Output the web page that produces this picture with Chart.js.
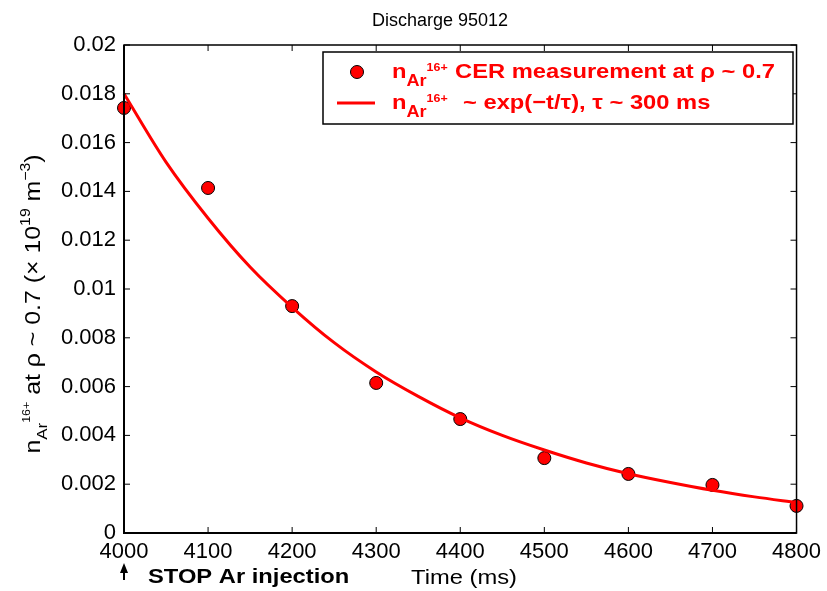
<!DOCTYPE html>
<html>
<head>
<meta charset="utf-8">
<script src="https://cdn.jsdelivr.net/npm/chart.js@4"></script>
<style>
  body { margin: 0; background: #fff; }
  #wrap { width: 827px; height: 591px; }
</style>
</head>
<body>
<div id="wrap"><canvas id="decay"></canvas></div>
<script>
// measured CER points
const timesMs = [4000, 4100, 4200, 4300, 4400, 4500, 4600, 4700, 4800];
const density = [0.01742, 0.01414, 0.0093, 0.00615, 0.00467, 0.00307, 0.00242, 0.00197, 0.00111];

// fit curve
const fitTimes = [4000, 4050, 4100, 4150, 4200, 4250, 4300, 4350, 4400, 4450, 4500, 4550, 4600, 4650, 4700, 4750, 4800];
const fitDensity = [0.0180, 0.0152, 0.0129, 0.0109, 0.00925, 0.0078, 0.0066, 0.0056, 0.00472, 0.00400, 0.00340, 0.00287, 0.00243, 0.00207, 0.00175, 0.00148, 0.00125];

const xTicks = [4000, 4100, 4200, 4300, 4400, 4500, 4600, 4700, 4800];
const yTicks = [0, 0.002, 0.004, 0.006, 0.008, 0.01, 0.012, 0.014, 0.016, 0.018, 0.02];

const FONT = '"Liberation Sans", Arial, Helvetica, sans-serif';
const SX = 1.13; // the picture's text is a bit wide

// text runs with sub/superscripts
function richWidth(ctx, parts) {
  let w = 0;
  parts.forEach(p => {
    ctx.font = (p.bold ? 'bold ' : '') + p.size + 'px ' + FONT;
    w += ctx.measureText(p.t).width * SX;
  });
  return w;
}
function drawRich(ctx, parts, x, y, color) {
  ctx.fillStyle = color;
  ctx.textBaseline = 'alphabetic';
  ctx.textAlign = 'left';
  parts.forEach(p => {
    if (p.at !== undefined) x = p.at;
    ctx.font = (p.bold ? 'bold ' : '') + p.size + 'px ' + FONT;
    ctx.save();
    ctx.translate(x, y + (p.dy || 0));
    ctx.scale(SX, 1);
    ctx.fillText(p.t, 0, 0);
    ctx.restore();
    x += ctx.measureText(p.t).width * SX;
  });
}

const decorPlugin = {
  id: 'decor',
  afterDraw(chart) {
    const ctx = chart.ctx;
    const a = chart.chartArea;
    const xs = chart.scales.x, ys = chart.scales.y;
    ctx.save();

    // frame
    ctx.strokeStyle = '#000';
    ctx.lineWidth = 1.5;
    ctx.strokeRect(a.left, a.top, a.right - a.left, a.bottom - a.top);
    ctx.lineWidth = 2;
    ctx.beginPath();
    ctx.moveTo(a.left, a.top); ctx.lineTo(a.left, a.bottom); ctx.lineTo(a.right, a.bottom);
    ctx.stroke();

    // inward ticks on all sides
    ctx.lineWidth = 1;
    ctx.beginPath();
    xTicks.forEach(v => {
      const px = xs.getPixelForValue(v);
      ctx.moveTo(px, a.bottom); ctx.lineTo(px, a.bottom - 6);
      ctx.moveTo(px, a.top); ctx.lineTo(px, a.top + 6);
    });
    yTicks.forEach(v => {
      const py = ys.getPixelForValue(v);
      ctx.moveTo(a.left, py); ctx.lineTo(a.left + 6, py);
      ctx.moveTo(a.right, py); ctx.lineTo(a.right - 6, py);
    });
    ctx.stroke();

    // title
    ctx.font = '18px ' + FONT;
    ctx.fillStyle = '#000';
    ctx.textAlign = 'center';
    ctx.fillText('Discharge 95012', 440, 26);

    // x label
    ctx.font = '21px ' + FONT;
    ctx.save();
    ctx.translate(464, 584);
    ctx.scale(SX, 1);
    ctx.fillText('Time (ms)', 0, 0);
    ctx.restore();

    // STOP note + arrow
    drawRich(ctx, [{ t: 'STOP Ar injection', size: 21, bold: true }], 148, 583, '#000');
    const ax = xs.getPixelForValue(4000);
    ctx.fillStyle = '#000';
    ctx.beginPath();
    ctx.moveTo(ax, 563); ctx.lineTo(ax - 4, 573); ctx.lineTo(ax + 4, 573); ctx.closePath();
    ctx.fill();
    ctx.fillRect(ax - 1, 570, 2, 10);

    // y label, rotated
    const yParts = [
      { t: 'n', size: 22 },
      { t: 'Ar', size: 15, dy: 7 },
      { t: '16+', size: 11, dy: -10 },
      { t: ' at \u03c1 ~ 0.7 (\u00d7 10', size: 22 },
      { t: '19', size: 14, dy: -10 },
      { t: ' m', size: 22 },
      { t: '\u22123', size: 14, dy: -10 },
      { t: ')', size: 22 }
    ];
    const w = richWidth(ctx, yParts);
    ctx.save();
    ctx.translate(40, 304);
    ctx.rotate(-Math.PI / 2);
    drawRich(ctx, yParts, -w / 2, 0, '#000');
    ctx.restore();

    // legend
    const lx = 323, ly = 52, lw = 470, lh = 72;
    ctx.fillStyle = '#fff';
    ctx.fillRect(lx, ly, lw, lh);
    ctx.strokeStyle = '#000';
    ctx.lineWidth = 1.5;
    ctx.strokeRect(lx, ly, lw, lh);

    ctx.beginPath();
    ctx.arc(357, 72, 6.5, 0, Math.PI * 2);
    ctx.fillStyle = '#ff0000';
    ctx.fill();
    ctx.lineWidth = 1;
    ctx.stroke();

    ctx.strokeStyle = '#ff0000';
    ctx.lineWidth = 3;
    ctx.beginPath();
    ctx.moveTo(337, 103); ctx.lineTo(375, 103);
    ctx.stroke();

    const red = '#ff0000';
    drawRich(ctx, [
      { t: 'n', size: 21, bold: true },
      { t: 'Ar', size: 16, bold: true, dy: 8 },
      { t: '16+', size: 11, bold: true, dy: -7 },
      { t: 'CER measurement at \u03c1 ~ 0.7', size: 21, bold: true, at: 455 }
    ], 392, 78, red);
    drawRich(ctx, [
      { t: 'n', size: 21, bold: true },
      { t: 'Ar', size: 16, bold: true, dy: 8 },
      { t: '16+', size: 11, bold: true, dy: -7 },
      { t: '~ exp(\u2212t/\u03c4), \u03c4 ~ 300 ms', size: 21, bold: true, at: 463 }
    ], 392, 109, red);

    ctx.restore();
  }
};

new Chart(document.getElementById('decay'), {
  type: 'scatter',
  data: {
    datasets: [
      {
        label: 'fit',
        data: fitTimes.map((t, i) => ({ x: t, y: fitDensity[i] })),
        showLine: true,
        borderColor: '#ff0000',
        borderWidth: 3,
        pointRadius: 0,
        cubicInterpolationMode: 'monotone',
        fill: false,
        clip: false
      },
      {
        label: 'CER',
        data: timesMs.map((t, i) => ({ x: t, y: density[i] })),
        backgroundColor: '#ff0000',
        borderColor: '#000',
        borderWidth: 1,
        pointRadius: 6.5,
        pointHoverRadius: 6.5,
        clip: false
      }
    ]
  },
  options: {
    responsive: true,
    maintainAspectRatio: false,
    animation: false,
    events: [],
    layout: { padding: { left: 0, top: 45, right: 30, bottom: 0 } },
    plugins: { legend: { display: false }, tooltip: { enabled: false } },
    scales: {
      x: {
        type: 'linear',
        min: 4000,
        max: 4800,
        afterFit: s => { s.height = 58; },
        afterBuildTicks: s => { s.ticks = xTicks.map(v => ({ value: v })); },
        grid: { display: false, drawTicks: false },
        border: { display: false },
        ticks: { color: '#000', font: { family: FONT, size: 22 }, padding: 6, maxRotation: 0, callback: v => String(v) }
      },
      y: {
        min: 0,
        max: 0.02,
        afterFit: s => { s.width = 124; },
        afterBuildTicks: s => { s.ticks = yTicks.map(v => ({ value: v })); },
        grid: { display: false, drawTicks: false },
        border: { display: false },
        ticks: {
          color: '#000',
          font: { family: FONT, size: 22 },
          padding: 8,
          callback: v => String(+v.toFixed(3))
        }
      }
    }
  },
  plugins: [decorPlugin]
});
</script>
</body>
</html>
